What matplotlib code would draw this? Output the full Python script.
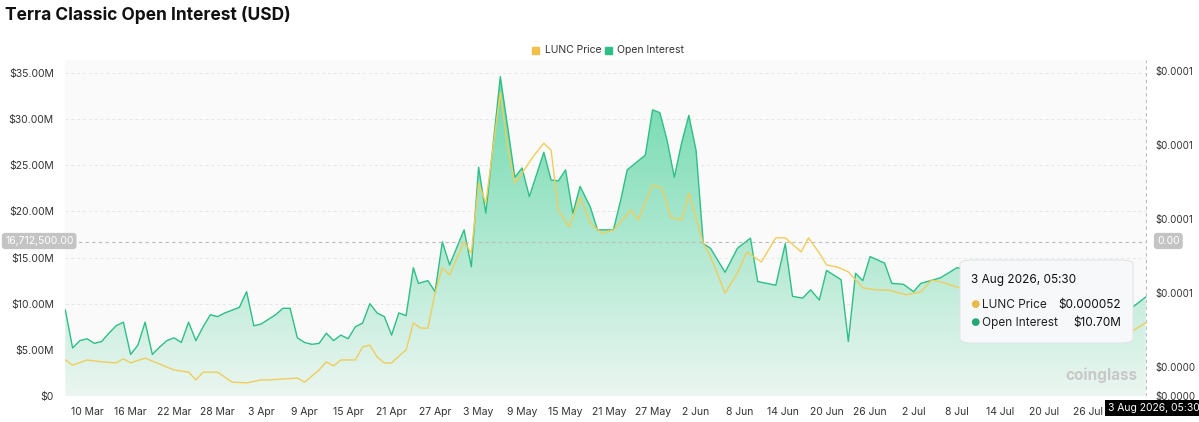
import numpy as np
import pandas as pd
import matplotlib
matplotlib.use("Agg")
import matplotlib.pyplot as plt
from matplotlib.patches import FancyBboxPatch

start = pd.Timestamp("2026-03-07")

oi_days = [0,1,2,3,4,5,6,7,8,9,10,11,12,13,14,15,16,17,18,19,20,21,22,23,24,25,26,27,28,29,30,31,32,33,34,35,36,37,38,39,40,41,42,43,44,45,46,47,48,48.7,50,51,52,53,55,56,57,58,60,61,62,63,64,66,67,68,69,70,71,72.4,73.4,75.6,76.6,77.5,80,81,82,83,84,85,86,87,88,89,91,92.7,94.5,95.5,98,99.3,100.3,101.7,102.8,104,105,107,108,109,110,111,113,114,115.6,117,118,120.7,123,126,130,135,140,144,147,149]
oi_vals = [9.3,5.2,6.0,6.2,5.7,5.9,6.8,7.6,8.0,4.5,5.5,8.0,4.5,5.3,6.0,6.3,5.8,8.0,6.0,7.5,8.8,8.6,9.0,9.3,9.6,11.3,7.6,7.8,8.3,8.8,9.5,9.5,6.3,5.8,5.6,5.7,6.8,6.0,6.6,6.2,7.5,7.9,10.0,9.0,8.6,6.6,9.0,8.7,13.9,12.2,12.5,11.3,16.7,14.2,18.0,14.0,24.8,19.8,34.6,29.2,23.7,24.7,21.6,26.4,23.4,23.3,24.5,19.8,22.7,20.5,18.0,18.0,21.2,24.5,26.1,31.0,30.7,27.7,23.7,27.4,30.4,26.6,16.5,16.0,13.4,16.0,17.1,12.4,12.0,16.5,10.8,10.6,11.5,10.4,13.6,12.6,5.9,13.3,12.5,15.1,14.4,12.2,12.1,11.3,12.2,12.8,13.9,13.5,13.0,12.5,11.5,10.5,9.5,10.7]

pr_days = [0,1,3,5,7,8,9,11,13,15,17,18,19,21,23,25,27,28,32,33,35,36,37,38,40,41,42,43,44,45,46.5,47,48,49,50,51,52,53,55,56,57,58,60,61,62,63,64.5,66,67,68,69.5,71,72.4,74,75.6,78,79,81,82.3,83.5,85,86,88,89,91,92.7,94,96,98,99.3,101.5,102.5,104,105,106.5,108,110,112,113.5,116,118,119.5,120.7,123,128,134,140,145,147,149]
pr_vals = [41.9,40.5,41.9,41.4,41.1,42.2,41.1,42.4,40.8,39.2,38.6,36.5,38.6,38.6,35.9,35.7,36.5,36.5,37.0,35.9,39.2,41.4,40.3,41.9,41.9,45.4,45.9,42.7,41.1,41.1,43.8,44.6,51.9,50.5,50.5,60.0,66.8,64.9,73.8,70.8,89.7,84.3,114.3,99.5,89.7,92.4,96.8,100.5,98.6,82.4,77.8,85.9,78.9,76.2,77.0,82.4,79.7,89.2,88.4,80.5,79.7,87.0,73.5,69.7,60.0,65.4,71.1,68.4,74.9,74.9,71.1,74.9,70.8,67.6,67.0,65.7,61.4,60.8,60.8,59.5,60.3,63.5,63.0,61.6,60.0,59.0,58.5,55.0,49.5,51.9]

tick_days = list(range(3, 146, 6))
tick_labels = [f"{(start + pd.Timedelta(days=d)).day} {(start + pd.Timedelta(days=d)).strftime('%b')}" for d in tick_days]

left_ticks = [0, 5, 10, 15, 20, 25, 30, 35]
left_labels = ["$0", "$5.00M", "$10.00M", "$15.00M", "$20.00M", "$25.00M", "$30.00M", "$35.00M"]
right_ticks = [32.16, 40, 60, 80, 100, 120]
right_labels = ["$0.0000", "$0.0000", "$0.0001", "$0.0001", "$0.0001", "$0.0001"]

plt.rcParams['font.family'] = ['Inter', 'DejaVu Sans']
fig = plt.figure(figsize=(11.99, 4.22), dpi=100, facecolor="white")
ax = fig.add_axes([65/1199, 1-396/422, 1082/1199, 336/422])
ax.set_facecolor("#fafafa")
ax.set_xlim(-0.05, 149.2)
ax.set_ylim(0, 36.4)
for s in ax.spines.values():
    s.set_visible(False)

green = "#2dbf86"
ax.plot(oi_days, oi_vals, color=green, lw=1.0, zorder=3)
poly = ax.fill_between(oi_days, oi_vals, 0, color="none", lw=0)
grad = np.linspace(0.05, 0.75, 256).reshape(-1, 1)
cmap = matplotlib.colors.LinearSegmentedColormap.from_list("g", ["#f4f8f6", "#3fcf95"])
im = ax.imshow(grad, extent=[0, 149, 0, 35], origin="lower", aspect="auto", cmap=cmap, vmin=0, vmax=1, zorder=2)
path = poly.get_paths()[0]
im.set_clip_path(path, transform=ax.transData)

ax.set_yticks(left_ticks)
ax.set_yticklabels(left_labels, fontsize=7.5, color="#333")
ax.set_xticks(tick_days)
ax.set_xticklabels(tick_labels, fontsize=7.5, color="#333")
ax.tick_params(length=0, pad=8)
ax.grid(axis="y", color="#e6e6e6", ls=(0, (3, 3)), lw=0.7)
ax.axhline(16.7125, color="#bbbbbb", ls=(0, (3, 3)), lw=0.8, zorder=4)
ax.axvline(149, color="#bbbbbb", ls=(0, (3, 3)), lw=0.8, zorder=4)

ax2 = ax.twinx()
ax2.set_ylim(32.16, 122.97)
ax2.plot(pr_days, pr_vals, color="#f0cd5a", lw=1.0, zorder=3)
ax2.set_yticks(right_ticks)
ax2.set_yticklabels(right_labels, fontsize=7, color="#333")
ax2.tick_params(length=0, pad=6)
for s in ax2.spines.values():
    s.set_visible(False)

fig.text(0.004, 0.965, "Terra Classic Open Interest (USD)", fontsize=12.5, fontweight="bold", va="center", color="#111")
fig.patches.append(FancyBboxPatch((532/1199, 1-54/422), 7/1199, 7/422, boxstyle="square,pad=0", color="#f0c04a", transform=fig.transFigure))
fig.text(545/1199, 1-50/422, "LUNC Price", fontsize=7.5, va="center", color="#333")
fig.patches.append(FancyBboxPatch((605/1199, 1-54/422), 7/1199, 7/422, boxstyle="square,pad=0", color="#2dbf86", transform=fig.transFigure))
fig.text(617/1199, 1-50/422, "Open Interest", fontsize=7.5, va="center", color="#333")

fig.text(5/1199, 1-241/422, "16,712,500.00", fontsize=7.5, color="white", va="center",
         bbox=dict(boxstyle="round,pad=0.3", fc="#c4c4c4", ec="none"))
fig.text(1157/1199, 1-241/422, "0.00", fontsize=7.5, color="white", va="center",
         bbox=dict(boxstyle="round,pad=0.3", fc="#c4c4c4", ec="none"))
fig.text(1108/1199, 1-408/422, "3 Aug 2026, 05:30", fontsize=7.5, color="white", va="center",
         bbox=dict(boxstyle="square,pad=0.25", fc="black", ec="none"))

# tooltip
fig.patches.append(FancyBboxPatch((960/1199, 1-343/422), 173/1199, 83/422, boxstyle="round,pad=0,rounding_size=0.01",
                                  fc="#f6f8fa", ec="#e3e3e3", lw=0.8, transform=fig.transFigure, zorder=10))
fig.text(971/1199, 1-280/422, "3 Aug 2026, 05:30", fontsize=8.5, color="#111", va="center", zorder=11)
fig.text(970/1199, 1-305/422, "●", fontsize=7.5, color="#e8b94a", va="center", zorder=11)
fig.text(982/1199, 1-305/422, "LUNC Price", fontsize=8.5, color="#222", va="center", zorder=11)
fig.text(1121/1199, 1-305/422, "$0.000052", fontsize=8.5, color="#111", va="center", ha="right", zorder=11)
fig.text(970/1199, 1-323/422, "●", fontsize=7.5, color="#23a875", va="center", zorder=11)
fig.text(982/1199, 1-323/422, "Open Interest", fontsize=8.5, color="#222", va="center", zorder=11)
fig.text(1121/1199, 1-323/422, "$10.70M", fontsize=8.5, color="#111", va="center", ha="right", zorder=11)
fig.text(1138/1199, 1-375/422, "coinglass", fontsize=11, color="#c8c8c8", va="center", ha="right", fontweight="bold", zorder=5)

fig.savefig("out.png", dpi=100, facecolor="white")
